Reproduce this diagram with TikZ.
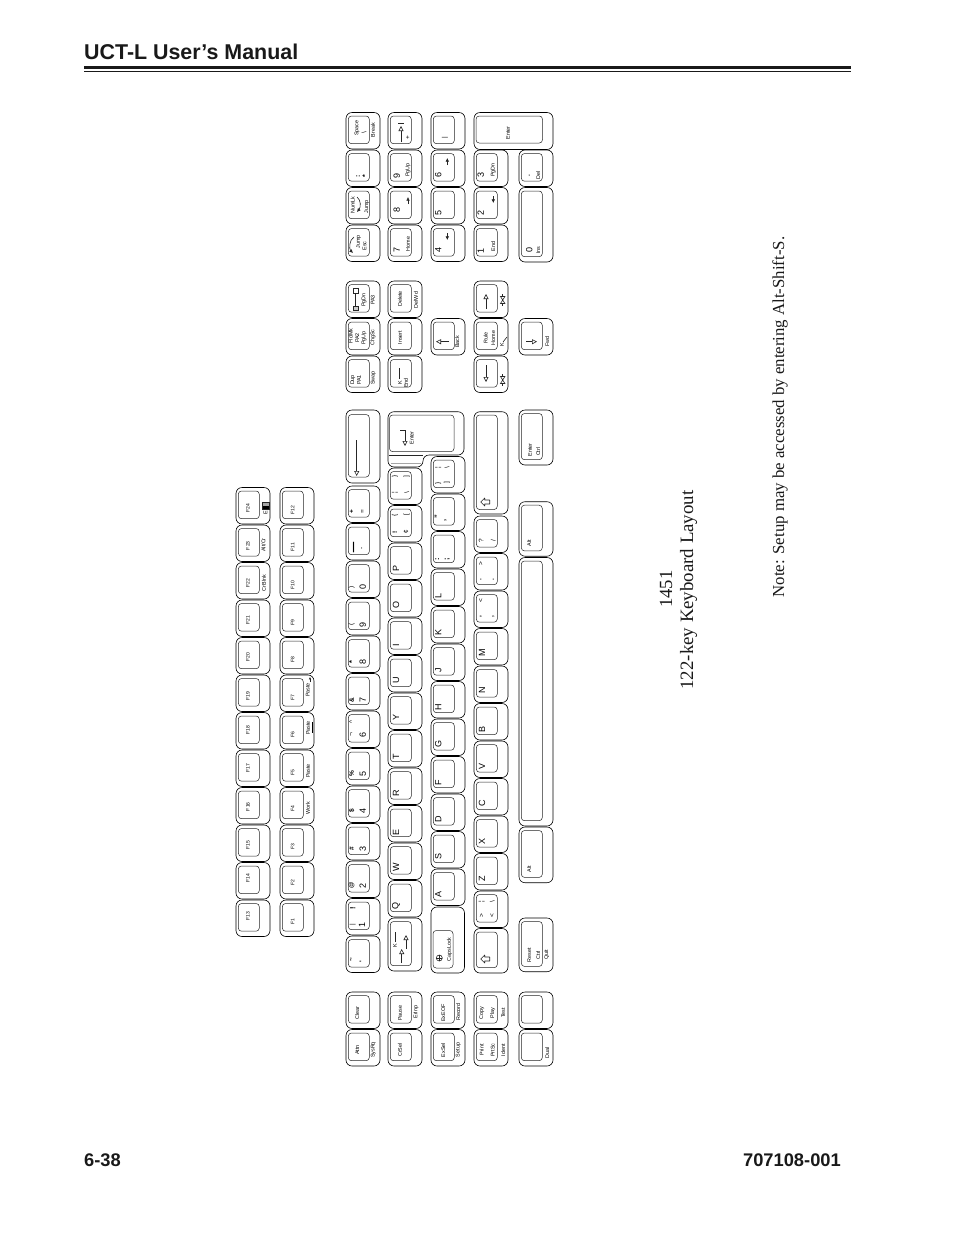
\documentclass[tikz,border=0pt]{standalone}
\usepackage{fontspec}
\setmainfont{Liberation Sans}
\newfontfamily\tmsfont{Liberation Serif}
\usetikzlibrary{arrows.meta}
\newcount\lbc
\tikzset{
 outerk/.style={draw=black,line width=0.6pt,rounded corners=6pt},
 innerk/.style={draw=black!85,line width=0.5pt,rounded corners=3.2pt},
 glyph/.style={line width=0.6pt,draw=black!85},
 opent/.style={-{Triangle[open,length=5pt,width=5pt]}},
 solidt/.style={-{Latex[length=3.6pt,width=3.6pt]}},
 rottext/.style={rotate=90,inner sep=0pt,outer sep=0pt,text=black},
}
\newcommand{\K}[3]{\draw[outerk] (#1,#2) rectangle ({#1+34},{#2+#3});
  \draw[innerk] ({#1+2.3},{#2+3.5}) rectangle ({#1+23.3},{#2+#3-5.3});}
\newcommand{\lbl}[4]{\global\advance\lbc by 1
  \node[rottext,font=\fontsize{#1}{#1}\selectfont,name=lb\the\lbc] at (#2,#3) {#4};}
\newcommand{\sm}[3]{\lbl{5.4}{#1}{#2}{#3}}
\newcommand{\fk}[3]{\lbl{5}{#1}{#2}{#3}}
\newcommand{\ch}[3]{\lbl{6.5}{#1}{#2}{#3}}
\newcommand{\bd}[3]{\lbl{6.5}{#1}{#2}{\bfseries #3}}
\newcommand{\bg}[3]{\lbl{9}{#1}{#2}{#3}}
\newcommand{\shiftarrow}[2]{\draw[glyph,line join=round] ({#1-5},#2) -- ({#1-1},{#2-4}) -- ({#1-1},{#2-2}) -- ({#1+4},{#2-2}) -- ({#1+4},{#2+2}) -- ({#1-1},{#2+2}) -- ({#1-1},{#2+4}) -- cycle;}
\newcommand{\bowt}[2]{\draw[glyph] (#1,{#2-6}) -- (#1,{#2+6});
  \draw[glyph,fill=white] ({#1-2.2},{#2-3.5}) -- ({#1+2.2},{#2-3.5}) -- (#1,#2) -- cycle;
  \draw[glyph,fill=white] ({#1-2.2},{#2+3.5}) -- ({#1+2.2},{#2+3.5}) -- (#1,#2) -- cycle;}
\begin{document}
\begin{tikzpicture}[x=1pt,y=-1pt]
\useasboundingbox (0,0) rectangle (954,1235);
\fill[white] (0,0) rectangle (954,1235);
% header / footer
\node[anchor=base west,inner sep=0pt,font=\fontsize{21.4}{24}\selectfont\bfseries,text=black!90] (title) at (84,59.8) {UCT-L User’s Manual};
\fill[black!90] (84,65.5) rectangle (851,69);
\fill[black!90] (84,71) rectangle (851,72.2);
\node[anchor=base west,inner sep=0pt,font=\fontsize{18.3}{20}\selectfont\bfseries,text=black!90] (pg) at (84,1166) {6-38};
\node[anchor=base east,inner sep=0pt,font=\fontsize{18.3}{20}\selectfont\bfseries,text=black!90] (doc) at (841,1166) {707108-001};
% rotated captions
\node[rotate=90,anchor=base,inner sep=0pt,font=\tmsfont\fontsize{18.6}{20}\selectfont,text=black!90] (c1) at (672,589) {1451};
\node[rotate=90,anchor=base,inner sep=0pt,font=\tmsfont\fontsize{18.85}{20}\selectfont,text=black!90] (c2) at (693,590) {122-key Keyboard Layout};
\node[rotate=90,anchor=base,inner sep=0pt,font=\tmsfont\fontsize{16.8}{18}\selectfont,text=black!90] (c3) at (784,417) {Note: Setup may be accessed by entering Alt-Shift-S.};
% function keys
\foreach \y in {487.5,525,562.5,600,637.5,675,712.5,750,787.5,825,862.5,900}{\K{236}{\y}{36.5}\K{280}{\y}{36.5}}
\fk{248}{508}{F24}\fk{248}{545.7}{F23}\fk{248}{583}{F22}\fk{248}{620}{F21}\fk{248}{657}{F20}\fk{248}{696}{F19}
\fk{248}{730}{F18}\fk{248}{768}{F17}\fk{248}{806.7}{F16}\fk{248}{845}{F15}\fk{248}{878}{F14}\fk{248}{916}{F13}
\fk{292.7}{510}{F12}\fk{292.7}{547}{F11}\fk{292.7}{585}{F10}\fk{292.7}{622.7}{F9}\fk{292.7}{660}{F8}\fk{292.7}{698}{F7}
\fk{292.7}{735}{F6}\fk{292.7}{772.7}{F5}\fk{292.7}{809}{F4}\fk{292.7}{846.7}{F3}\fk{292.7}{883}{F2}\fk{292.7}{921.7}{F1}
\sm{265.5}{512.5}{E}
\draw[glyph,fill=black!35] (262.5,502) rectangle (269,509);
\fill[black] (262.5,505.5) rectangle (269,509);
\sm{263.5}{545}{Alt/Cr}\sm{264}{583}{CrBlnk}
\sm{307.7}{690}{Paste}\draw[glyph,-{Latex[length=2.4pt,width=2.4pt]}] (310,682) -- (310,677);
\sm{308}{728}{Paste}\draw[line width=1pt] (312.3,722) -- (312.3,733);
\sm{308}{771}{Paste}\sm{308}{808}{Work}
% numeric pad
\foreach \x in {346,388}{\K{\x}{112.5}{36.5}\K{\x}{150}{36.5}\K{\x}{187.5}{36.5}\K{\x}{225}{36.5}}
\K{431}{112.5}{36.5}\K{431}{150}{36.5}\K{431}{187.5}{36.5}\K{431}{225}{36.5}
\K{474}{150}{36.5}\K{474}{187.5}{36.5}\K{474}{225}{36.5}
\draw[outerk] (474,112.5) rectangle (553,149.5);
\draw[innerk] (476,116) rectangle (542.5,143);
\K{519}{150}{36.5}\K{519}{187.5}{74.5}
\sm{357}{128}{Space}\sm{373}{130}{Break}\ch{364}{133}{\textbackslash}
\lbl{7}{358}{176}{\bfseries :}\lbl{7}{365}{176}{\bfseries *}
\sm{352.7}{205}{NumLk}\sm{366.7}{207}{Jump}
\draw[glyph,solidt] (357,197) .. controls (361,200) and (361,207) .. (357,212);
\sm{358.5}{241.7}{Jump}\sm{364.5}{246}{Esc}
\draw[glyph,solidt] (354,237) .. controls (349,240) and (349,249) .. (353,253);
% col 2
\draw[glyph,opent] (401,142) -- (401,126);
\draw[glyph] (398,123.5) -- (404,123.5);
\ch{408}{138}{+}
\bg{396.7}{176}{9}\sm{408}{170}{PgUp}
\bg{396.7}{210}{8}\draw[glyph,solidt] (408,204) -- (408,197);
\bg{396.7}{250}{7}\sm{408}{244}{Home}
% col 3
\ch{445}{137.3}{|}
\bg{438.3}{175}{6}\draw[glyph,solidt] (447.3,165) -- (447.3,158);
\bg{438.3}{212.7}{5}
\bg{438.3}{250}{4}\draw[glyph,solidt] (447.3,233) -- (447.3,240);
% col 4/5
\sm{508}{133}{Enter}
\bg{480.7}{175}{3}\sm{493.3}{170}{PgDn}
\bg{480.7}{212.7}{2}\draw[glyph,solidt] (493.3,196) -- (493.3,203);
\bg{480.7}{250.7}{1}\sm{493.3}{246.7}{End}
\bd{529.3}{176}{.}\sm{538.3}{175}{Del}
\bg{529.3}{250}{0}\sm{538.3}{250}{Ins}
% edit cluster
\foreach \y in {281,318.5,356}{\K{346}{\y}{36.5}\K{388}{\y}{36.5}\K{474}{\y}{36.5}}
\K{431}{318.5}{36.5}\K{519}{318.5}{36.5}
\draw[glyph] (353.5,288.5) rectangle (358,293);
\draw[glyph] (355.7,293) -- (355.7,306);
\draw[glyph,fill=black!20] (353.5,306) rectangle (358,310);
\sm{364}{300}{PgDn}\sm{372.7}{300}{PA3}
\sm{350.7}{336}{FldMk}\sm{357.3}{338}{PA2}\sm{364}{338}{PgUp}\sm{373}{337.7}{ChgSc}
\sm{352.7}{380}{Dup}\sm{359}{380}{PA1}\sm{373.3}{378}{Swap}
\sm{400}{299}{Delete}\sm{416}{300}{DelWd}\sm{400}{337.7}{Insert}
\draw[glyph,line width=0.8pt] (399.5,368) -- (399.5,379);
\sm{400}{383}{K}\sm{406}{383}{End}
\draw[glyph,opent] (449,341.7) -- (436,341.7);\sm{457.3}{341.7}{Back}
\draw[glyph,opent] (486,309) -- (486,294);\bowt{502.7}{300}
\sm{485.7}{338}{Rule}\sm{493.3}{338}{Home}\sm{502}{345}{K}\draw[glyph] (503,342) -- (507,337);
\draw[glyph,opent] (486,365) -- (486,382);\bowt{502.7}{380}
\draw[glyph,opent] (526,341.7) -- (537,341.7);\sm{547.3}{341.7}{Fwd}
% number row
\draw[outerk] (346,410) rectangle (380,483);
\draw[innerk] (348.3,414.5) rectangle (369.3,477);
\draw[glyph,opent] (356.7,440) -- (356.7,476);
\foreach \y in {486,523.5,561,598.5,636,673.5,711,748.5,786,823.5,861,898.5,936}{\K{346}{\y}{36.5}}
\bd{351.7}{512}{+}\ch{362.7}{512}{=}
\lbl{18}{352.5}{547}{\_}\ch{362.7}{548}{-}
\ch{351.7}{587}{)}\bg{362.7}{587}{0}
\ch{351.7}{624.7}{(}\bg{362.7}{624.7}{9}
\lbl{7.5}{351.7}{662}{\bfseries *}\bg{362.7}{662}{8}
\bd{351.7}{700}{\&}\bg{362.7}{699.7}{7}
\ch{351.7}{721.7}{\^{}}\ch{351.7}{735}{¬}\bg{362.7}{735}{6}
\bd{351.7}{774}{\%}\bg{362.7}{774}{5}
\bd{351.7}{811}{\$}\bg{362.7}{811}{4}
\bd{351.7}{848.7}{\#}\bg{362.7}{848.7}{3}
\bd{351.7}{885.7}{@}\bg{362.7}{885.7}{2}
\lbl{7.5}{352.7}{908}{\bfseries !}\ch{352.7}{925}{|}\bg{362}{925}{1}
\bd{351.7}{960}{\textasciitilde}\bd{361.7}{961.7}{`}
% second row
\draw[outerk] (388,411.7) -- (464,411.7) -- (464,455) -- (423,455) -- (423,467) -- (388,467) -- cycle;
\draw[glyph] (389,455) -- (423,455);
\draw[draw=black!35,line width=0.5pt] (391,463.5) -- (421,463.5);
\draw[innerk] (389.5,415) rectangle (454,451.7);
\draw[glyph,opent] (400,430) -- (405,430) -- (405,446);
\sm{411.7}{438}{Enter}
\foreach \y in {468,505.5,543,580.5,618,655.5,693,730.5,768,805.5,843,880.5}{\K{388}{\y}{36.5}}
\K{388}{918}{53}
\ch{395}{476.7}{\}}\ch{406.7}{476.7}{]}\ch{395}{493}{¦}\ch{406.7}{493}{\textbackslash}
\ch{395}{515}{\{}\ch{406.7}{515}{[}\ch{395}{532}{\bfseries !}\ch{406}{532}{¢}
\bg{396}{568}{P}\bg{396}{605}{O}\bg{396}{645}{I}\bg{396}{680.7}{U}\bg{396}{717.3}{Y}\bg{396}{756.7}{T}\bg{396}{793}{R}\bg{396}{832}{E}\bg{396}{867.7}{W}\bg{396}{906}{Q}
\draw[glyph,line width=0.8pt] (395,932) -- (395,942);\sm{395}{945.5}{K}
\draw[glyph,opent] (406,949) -- (406,935);
\draw[glyph,opent] (401.7,963) -- (401.7,949);
% third row
\foreach \y in {456.5,494,531.5,569,606.5,644,681.5,719,756.5,794,831.5,869}{\K{431}{\y}{36.5}}
\ch{438.3}{467.7}{¦}\ch{447}{467.7}{\textbackslash}\ch{438.3}{483}{\}}\ch{447}{483}{]}
\lbl{7.5}{437.3}{517}{\bfseries "}\lbl{7.5}{447}{520.7}{\bfseries '}
\lbl{7.5}{437.3}{559}{\bfseries :}\lbl{7.5}{447.3}{559}{\bfseries ;}
\bg{438.3}{595.7}{L}\bg{438.3}{632.7}{K}\bg{438.3}{670}{J}\bg{438.3}{707.3}{H}\bg{438.3}{744}{G}\bg{438.3}{782.7}{F}\bg{438.3}{819}{D}\bg{438.3}{856.7}{S}\bg{438.3}{894}{A}
\draw[outerk] (431,907) rectangle (464.5,973);
\draw[innerk] (433,930.5) rectangle (453,968);
\draw[glyph] (439.3,958) circle (3);
\draw[glyph] (436.3,958) -- (442.3,958);\draw[glyph] (439.3,955) -- (439.3,961);
\sm{449.5}{949.5}{CapsLock}
% fourth row
\draw[outerk] (474,411.7) rectangle (508,514);
\draw[innerk] (476.3,415) rectangle (497.3,509.5);
\shiftarrow{485.7}{502}
\foreach \y in {516,553.5,591,628.5,666,703.5,741,778.5,816,853.5,891}{\K{474}{\y}{36.5}}
\K{474}{928.5}{44.5}
\ch{481}{540.7}{?}\ch{493.3}{540.7}{/}
\ch{481}{564}{>}\bd{481}{580}{.}\bd{493.3}{580}{.}
\ch{481}{600.7}{<}\bd{481}{617}{,}\bd{493.3}{617}{,}
\bg{482}{653}{M}\bg{482}{690.7}{N}\bg{482}{729.3}{B}\bg{482}{766}{V}\bg{482}{803}{C}\bg{482}{841}{X}\bg{482}{878.3}{Z}
\ch{481.7}{901.7}{¦}\ch{492.3}{901.7}{\textbackslash}\ch{481.7}{916}{>}\ch{492.3}{916}{<}
\shiftarrow{485.7}{959}
% bottom row
\K{519}{410}{55}\sm{530}{450}{Enter}\sm{538.3}{451.7}{Ctrl}
\K{519}{501.7}{54.5}\sm{529.3}{543.3}{Alt}
\K{519}{557.5}{268.5}
\K{519}{827}{55.7}\sm{529.3}{869.3}{Alt}
\K{519}{918}{53.7}\sm{529.3}{955}{Reset}\sm{538.3}{955}{Ctrl}\sm{546.7}{955}{Quit}
% left cluster
\foreach \x in {346,388,431,474,519}{\K{\x}{992}{36.5}\K{\x}{1029.5}{36.5}}
\sm{357.3}{1013}{Clear}\sm{357.3}{1050}{Attn}\sm{373.3}{1050}{SysRq}
\sm{400}{1013}{Pause}\sm{416}{1012}{ErInp}\sm{400}{1050}{CrSel}
\sm{443.3}{1013}{ExEOF}\sm{458.3}{1012}{Record}\sm{443.3}{1050}{ExSel}\sm{458.3}{1050}{Setup}
\sm{481.7}{1013}{Copy}\sm{492.7}{1013}{Play}\sm{503.3}{1013}{Test}
\sm{481.7}{1050}{Print}\sm{492.7}{1050}{PrtSc}\sm{503.3}{1050}{Ident}
\sm{547.3}{1053}{Dual}
\end{tikzpicture}
\end{document}
